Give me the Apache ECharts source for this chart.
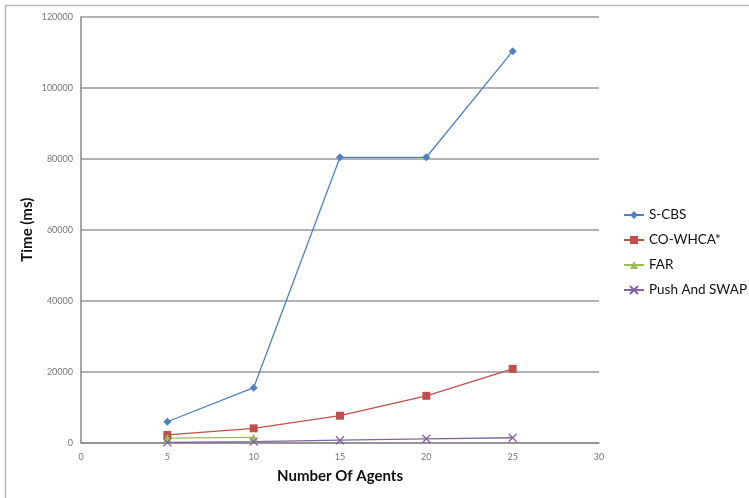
<!DOCTYPE html>
<html>
<head>
<meta charset="utf-8">
<script src="https://cdn.jsdelivr.net/npm/echarts@6/dist/echarts.min.js"></script>
<style>
  html, body { margin: 0; padding: 0; background: #fff; }
  #chart { width: 749px; height: 498px; }
</style>
</head>
<body>
<div id="chart"></div>
<script>
// Number of agents on the x axis
const agents = [5, 10, 15, 20, 25];
// Run times in milliseconds
const sCbs = [5900, 15500, 80400, 80400, 110300];
const coWhca = [2200, 4050, 7600, 13200, 20800];
const far = [1300, 1500];
const pushSwap = [100, 300, 700, 1100, 1400];

const seriesNames = ['S-CBS', 'CO-WHCA*', 'FAR', 'Push And SWAP'];
const xTicks = { min: 0, max: 30, step: 5 };
const yTicks = { min: 0, max: 120000, step: 20000 };

const pairs = (xs, ys) => ys.map((y, i) => [xs[i], y]);
const crossPath = 'path://M0,0L10,10M10,0L0,10';

const chart = echarts.init(document.getElementById('chart'), null, { renderer: 'canvas' });

const family = 'Lato, "Open Sans", sans-serif';
const labelFont = { fontFamily: family, fontSize: 9, color: '#777' };
const titleFont = { fontFamily: family, fontSize: 15, fontWeight: 'bold', color: '#111' };

chart.setOption({
  animation: false,
  backgroundColor: '#fff',
  graphic: [{
    type: 'rect',
    shape: { x: 5.5, y: 5.5, width: 760, height: 510 },
    style: { fill: 'none', stroke: '#b8b8b8', lineWidth: 1.5 },
    silent: true
  }],
  grid: { left: 81, right: 150, top: 16.7, bottom: 55.3, containLabel: false },
  legend: {
    orient: 'vertical',
    left: 618,
    top: 203,
    itemGap: 11,
    itemWidth: 20,
    itemHeight: 10,
    textStyle: { fontFamily: family, fontSize: 13.5, color: '#111' },
    data: seriesNames
  },
  xAxis: {
    type: 'value',
    min: xTicks.min, max: xTicks.max, interval: xTicks.step,
    name: 'Number Of Agents',
    nameLocation: 'middle',
    nameGap: 26,
    nameMoveOverlap: false,
    nameTextStyle: titleFont,
    axisLine: { show: true, lineStyle: { color: '#8a8a8a', width: 1.5 } },
    axisTick: { show: false },
    axisLabel: Object.assign({ margin: 10 }, labelFont),
    splitLine: { show: false }
  },
  yAxis: {
    type: 'value',
    min: yTicks.min, max: yTicks.max, interval: yTicks.step,
    name: 'Time (ms)',
    nameLocation: 'middle',
    nameGap: 46,
    nameMoveOverlap: false,
    nameRotate: 90,
    nameTextStyle: titleFont,
    axisLine: { show: true, lineStyle: { color: '#8a8a8a', width: 1.5 } },
    axisTick: { show: false },
    axisLabel: Object.assign({ margin: 8, formatter: v => String(v) }, labelFont),
    splitLine: { show: true, lineStyle: { color: '#9a9a9a', width: 1.5 } }
  },
  series: [
    {
      name: seriesNames[0], type: 'line', data: pairs(agents, sCbs),
      symbol: 'diamond', symbolSize: 8,
      lineStyle: { color: '#4F81BD', width: 1.3 },
      itemStyle: { color: '#4F81BD' }
    },
    {
      name: seriesNames[1], type: 'line', data: pairs(agents, coWhca),
      symbol: 'rect', symbolSize: 8,
      lineStyle: { color: '#C0504D', width: 1.3 },
      itemStyle: { color: '#C0504D' }
    },
    {
      name: seriesNames[2], type: 'line', data: pairs(agents, far),
      symbol: 'triangle', symbolSize: 8,
      lineStyle: { color: '#9BBB59', width: 1.3 },
      itemStyle: { color: '#9BBB59' }
    },
    {
      name: seriesNames[3], type: 'line', data: pairs(agents, pushSwap),
      symbol: crossPath, symbolSize: 8,
      lineStyle: { color: '#8064A2', width: 1.3 },
      itemStyle: { color: 'rgba(0,0,0,0)', borderColor: '#8064A2', borderWidth: 1.3 }
    }
  ]
});
</script>
</body>
</html>
